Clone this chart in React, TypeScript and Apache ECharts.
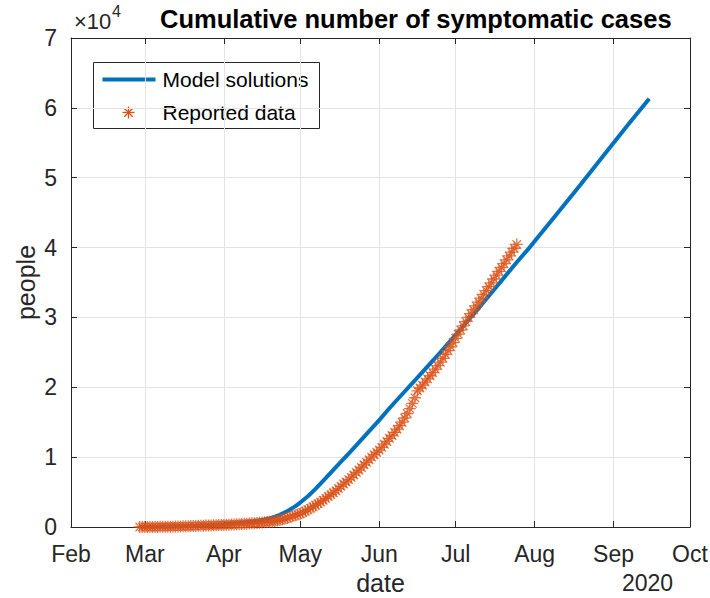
import React, { useEffect, useRef } from 'react';
import * as echarts from 'echarts';

// ---------- data ----------
const axisStartDate = '2020-02-01';
const axisEndDate = '2020-10-01';
const monthTickDates = ['2020-02-01', '2020-03-01', '2020-04-01', '2020-05-01', '2020-06-01', '2020-07-01', '2020-08-01', '2020-09-01', '2020-10-01'];
const monthTickLabels = ['Feb', 'Mar', 'Apr', 'May', 'Jun', 'Jul', 'Aug', 'Sep', 'Oct'];
const yearLabel = '2020';
const yMax = 70000;
const yInterval = 10000;
const yExponentBase = '×10';
const yExponent = '4';

const titleText = 'Cumulative number of symptomatic cases';
const xName = 'date';
const yName = 'people';
const modelName = 'Model solutions';
const reportedName = 'Reported data';

// reported daily cumulative cases, starting on reportedStartDate
const reportedStartDate = '2020-02-28';
const reportedCases = [
  1, 1, 2, 3, 5, 7, 10, 14, 18, 24, 30, 37, 45, 53, 62, 72, 82, 93, 104, 116,
  128, 140, 153, 166, 179, 192, 205, 218, 232, 246, 260, 275, 290,
  300, 315, 332, 350, 370, 390, 410, 432, 455, 478, 500, 525, 550, 577, 605, 635, 665,
  700, 740, 790, 850, 920, 1000, 1090, 1190, 1300, 1420, 1550, 1690, 1790, 1900,
  2080, 2260, 2480, 2680, 2900, 3120, 3340, 3580, 3830, 4100, 4370, 4640, 4900, 5200,
  5500, 5820, 6150, 6450, 6780, 7100, 7450, 7800, 8150, 8520, 8900, 9250, 9620, 10000,
  10350, 10680, 11000, 11400, 11850, 12250, 12700, 13100, 13550, 14000, 14500, 15000,
  15600, 16250, 16950, 17700, 18500, 19500, 19900, 20300, 20750, 21200, 21650, 22100,
  22600, 23100, 23600, 24150, 24700, 25250, 25800, 26400, 27000, 27600, 28200, 28800,
  29400, 30000, 30550, 31100, 31650, 32200, 32750, 33300, 33850, 34400, 34950, 35500,
  36050, 36600, 37150, 37700, 38250, 38800, 39350, 39900, 40450,
];

// model solution samples
const modelDates = [
  '2020-02-28', '2020-03-07', '2020-03-12', '2020-03-17', '2020-03-22', '2020-03-27',
  '2020-04-01', '2020-04-06', '2020-04-11', '2020-04-14', '2020-04-17', '2020-04-20',
  '2020-04-23', '2020-04-26', '2020-04-29', '2020-05-01', '2020-05-04', '2020-05-07',
  '2020-05-11', '2020-05-16', '2020-05-21', '2020-05-26', '2020-06-01', '2020-06-05',
  '2020-06-10', '2020-06-15', '2020-06-20', '2020-06-25', '2020-07-01', '2020-07-05',
  '2020-07-10', '2020-07-15', '2020-07-20', '2020-07-25', '2020-07-30', '2020-08-09',
  '2020-08-19', '2020-08-29', '2020-09-08', '2020-09-15',
];
const modelCases = [
  20, 60, 100, 150, 210, 290,
  390, 520, 700, 860, 1080, 1350,
  1750, 2300, 2950, 3500, 4400, 5450,
  7000, 8950, 10900, 12900, 15300, 17000,
  19000, 21000, 23000, 25000, 27500, 29200,
  31300, 33500, 35700, 37900, 40000, 44500,
  49000, 53600, 58200, 61300,
];

// ---------- helpers ----------
const DAY = 86400000;
const toDay = (d: string) => (Date.parse(d + 'T00:00:00Z') - Date.parse(axisStartDate + 'T00:00:00Z')) / DAY;

const BLUE = '#0072BD';
const ORANGE = '#D95319';
const AXIS = '#262626';
const GRID = '#e3e3e3';
const FONT = 'Liberation Sans, Arial, Helvetica, sans-serif';

export default function App() {
  const ref = useRef<HTMLDivElement>(null);
  useEffect(() => {
    if (!ref.current) return;
    const chart = echarts.init(ref.current, null, { renderer: 'svg' });
    const xMin = 0;
    const xMax = toDay(axisEndDate);
    const tickDays = monthTickDates.map(toDay);
    const labelOf: Record<number, string> = {};
    tickDays.forEach((d, i) => (labelOf[d] = monthTickLabels[i]));
    const startDay = toDay(reportedStartDate);
    const reported = reportedCases.map((v, i) => [startDay + i, v]);
    const model = modelDates.map((d, i) => [toDay(d), modelCases[i]]);

    const asterisk = 'path://M0,5L10,5M5,0L5,10M1.46,1.46L8.54,8.54M1.46,8.54L8.54,1.46';

    const xBase = {
      type: 'value',
      min: xMin,
      max: xMax,
      axisLine: { show: true, onZero: false, lineStyle: { color: AXIS, width: 1 } },
      axisTick: { show: true, inside: true, length: 6, customValues: tickDays, lineStyle: { color: AXIS } },
    };
    const yBase = {
      type: 'value',
      min: 0,
      max: yMax,
      interval: yInterval,
      axisLine: { show: true, onZero: false, lineStyle: { color: AXIS, width: 1 } },
      axisTick: { show: true, inside: true, length: 6, lineStyle: { color: AXIS } },
    };

    chart.setOption({
      animation: false,
      backgroundColor: '#ffffff',
      textStyle: { fontFamily: FONT },
      title: {
        text: titleText,
        left: 155,
        top: 1,
        textStyle: { fontFamily: FONT, fontSize: 25.5, fontWeight: 'bold', color: '#000000' },
      },
      grid: { left: 71, right: 20, top: 38, bottom: 71, containLabel: false, outerBoundsMode: 'none' },
      xAxis: [
        {
          ...xBase,
          position: 'bottom',
          name: xName,
          nameLocation: 'middle',
          nameGap: 43,
          nameMoveOverlap: false,
          nameTextStyle: { fontFamily: FONT, fontSize: 25, color: AXIS },
          axisLabel: {
            show: true,
            customValues: tickDays,
            margin: 15,
            fontFamily: FONT,
            fontSize: 23,
            color: AXIS,
            formatter: (v: number) => labelOf[v] ?? '',
          },
          splitLine: { show: true, lineStyle: { color: GRID, width: 1 } },
        },
        {
          ...xBase,
          position: 'top',
          axisLabel: { show: false },
          splitLine: { show: false },
        },
      ],
      yAxis: [
        {
          ...yBase,
          position: 'left',
          name: yName,
          nameLocation: 'middle',
          nameGap: 33,
          nameRotate: 90,
          nameMoveOverlap: false,
          nameTextStyle: { fontFamily: FONT, fontSize: 25, color: AXIS },
          axisLabel: {
            show: true,
            margin: 14,
            fontFamily: FONT,
            fontSize: 23,
            color: AXIS,
            formatter: (v: number) => String(v / yInterval),
          },
          splitLine: { show: true, lineStyle: { color: GRID, width: 1 } },
        },
        {
          ...yBase,
          position: 'right',
          axisLabel: { show: false },
          splitLine: { show: false },
        },
      ],
      series: [
        {
          name: modelName,
          type: 'line',
          data: model,
          showSymbol: false,
          symbol: 'none',
          smooth: false,
          lineStyle: { color: BLUE, width: 4 },
          z: 2,
        },
        {
          name: reportedName,
          type: 'scatter',
          data: reported,
          symbol: asterisk,
          symbolSize: 12,
          itemStyle: { color: 'none', borderColor: ORANGE, borderWidth: 1.3 },
          z: 3,
        },
      ],
      graphic: [
        {
          type: 'text',
          left: 74,
          top: 10,
          style: { text: yExponentBase, fontFamily: FONT, fontSize: 22, fill: AXIS },
        },
        {
          type: 'text',
          left: 112,
          top: 3,
          style: { text: yExponent, fontFamily: FONT, fontSize: 16, fill: AXIS },
        },
        {
          type: 'text',
          left: 622,
          top: 571,
          style: { text: yearLabel, fontFamily: FONT, fontSize: 23, fill: AXIS },
        },
        {
          type: 'group',
          left: 93,
          top: 62,
          z: 100,
          children: [
            { type: 'rect', shape: { x: 0, y: 0, width: 226, height: 66 }, style: { fill: '#ffffff', stroke: AXIS, lineWidth: 1 } },
            { type: 'line', shape: { x1: 9, y1: 17, x2: 62, y2: 17 }, style: { stroke: BLUE, lineWidth: 4 } },
            { type: 'text', x: 69, y: 17, style: { text: modelName, fontFamily: FONT, fontSize: 21, fill: '#000000', verticalAlign: 'middle' } },
            { type: 'line', shape: { x1: 29, y1: 50, x2: 41, y2: 50 }, style: { stroke: ORANGE, lineWidth: 1.3 } },
            { type: 'line', shape: { x1: 35, y1: 44, x2: 35, y2: 56 }, style: { stroke: ORANGE, lineWidth: 1.3 } },
            { type: 'line', shape: { x1: 30.8, y1: 45.8, x2: 39.2, y2: 54.2 }, style: { stroke: ORANGE, lineWidth: 1.3 } },
            { type: 'line', shape: { x1: 30.8, y1: 54.2, x2: 39.2, y2: 45.8 }, style: { stroke: ORANGE, lineWidth: 1.3 } },
            { type: 'text', x: 69, y: 50, style: { text: reportedName, fontFamily: FONT, fontSize: 21, fill: '#000000', verticalAlign: 'middle' } },
          ],
        },
      ],
    } as any);
    return () => chart.dispose();
  }, []);
  return <div ref={ref} style={{ position: 'absolute', left: 0, top: 0, width: 710, height: 598 }} />;
}
